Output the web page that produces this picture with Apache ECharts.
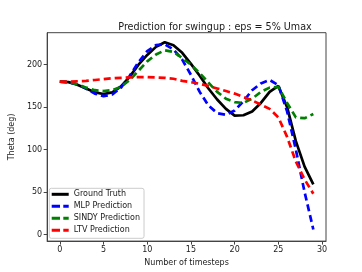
<!DOCTYPE html>
<html><head><meta charset="utf-8">
<script src="https://cdn.jsdelivr.net/npm/echarts@6/dist/echarts.min.js"></script>
<style>html,body{margin:0;padding:0;background:#fff}#c{width:362px;height:272px}</style>
</head><body><div id="c"></div>
<script>
const steps = Array.from({length: 30}, (_, i) => i);
const groundTruth = [180,179.5,176.5,172,167.5,165.5,167.5,174.5,186,200,211.5,221,226.5,223,214,201,187,172,159,148,140,140.5,145,155,168,175,150,110,80,59];
const mlpPred = [180,179.5,177,172,166,163,165,173,187,203,216,223,224,218,206,188,168,152,143,141,146,157,170,178,182,176,145,100,50,6];
const sindyPred = [180,179.5,177,173,170,169,170,174,182,193,204,212,217,215,208,200,190,179,168,160,156,155,160,168,173,174,155,138,137,142];
const ltvPred = [180,180,180.5,181,182,183,184,184.5,185,185.5,185.5,185,184.5,183.5,181,179.5,177.5,175,172,169,166,162,158,153,148,138,115,86,65,48];
const xTicks = [0,5,10,15,20,25,30];
const yTicks = [0,50,100,150,200];
const seriesNames = ['Ground Truth','MLP Prediction','SINDY Prediction','LTV Prediction'];

const font = 'DejaVu Sans';
const txt = '#1a1a1a';
const solidIcon = 'path://M0,0L17,0L17,3L0,3Z';
const dashIcon = 'path://M0,0L8.3,0L8.3,3L0,3Z M11.6,0L17,0L17,3L11.6,3Z';
function pairs(arr){ return arr.map((v,i)=>[steps[i], v]); }
function ser(name, data, color, dashed){
  return {
    name, type:'line', data: pairs(data), showSymbol:false, symbol:'none', smooth:false,
    lineStyle:{color, width:2.7, type: dashed?[7,4]:'solid'},
    itemStyle:{color}, animation:false
  };
}
const chart = echarts.init(document.getElementById('c'), null, {renderer:'canvas'});
chart.setOption({
  animation:false,
  backgroundColor:'#fff',
  title:{text:'Prediction for swingup : eps = 5% Umax', left:210, top:17, textAlign:'center',
    textStyle:{fontFamily:font, fontSize:9.6, fontWeight:'normal', color:txt}},
  grid:{left:45.7, right:36, top:32.7, bottom:29.7, show:true, borderColor:'#444', borderWidth:1, backgroundColor:'transparent'},
  legend:{
    data: seriesNames.map((n,i)=>({name:n, icon: i===0 ? solidIcon : dashIcon})),
    orient:'vertical', left:49.3, top:188.3, itemWidth:17, itemHeight:3, itemGap:2,
    padding:[1,4,3,2.4], borderColor:'#cccccc', borderWidth:1, borderRadius:2,
    backgroundColor:'rgba(255,255,255,0.8)',
    textStyle:{fontFamily:font, fontSize:8, color:txt, lineHeight:10}
  },
  xAxis:{type:'value', min:-1.45, max:30.45,
    name:'Number of timesteps', nameLocation:'middle', nameGap:16,
    nameTextStyle:{fontFamily:font, fontSize:8, color:txt},
    axisLine:{show:true, onZero:false, lineStyle:{color:'#444'}},
    axisTick:{show:true, length:3.5, customValues:xTicks, lineStyle:{color:'#444'}},
    axisLabel:{customValues:xTicks, fontFamily:font, fontSize:8, color:txt, margin:5},
    splitLine:{show:false}},
  yAxis:{type:'value', min:-7.7, max:237.7,
    name:'Theta (deg)', nameLocation:'middle', nameGap:19, nameRotate:90,
    nameTextStyle:{fontFamily:font, fontSize:8, color:txt},
    axisLine:{show:true, onZero:false, lineStyle:{color:'#444'}},
    axisTick:{show:true, length:3.5, customValues:yTicks, lineStyle:{color:'#444'}},
    axisLabel:{customValues:yTicks, fontFamily:font, fontSize:8, color:txt, margin:5},
    splitLine:{show:false}},
  series:[
    ser(seriesNames[0], groundTruth, '#000000', false),
    ser(seriesNames[1], mlpPred, '#0000ff', true),
    ser(seriesNames[2], sindyPred, '#008000', true),
    ser(seriesNames[3], ltvPred, '#ff0000', true)
  ]
});
</script></body></html>
